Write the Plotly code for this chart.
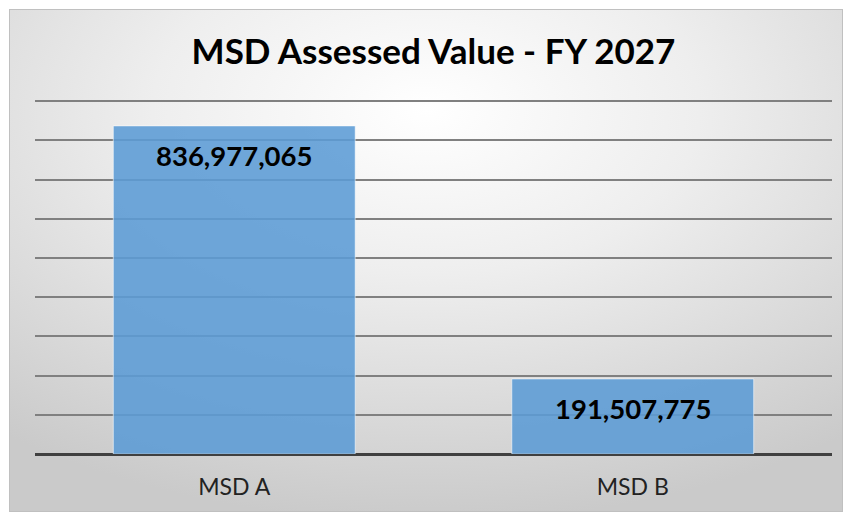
import base64
import plotly.graph_objects as go

categories = ["MSD A", "MSD B"]
values = [836977065, 191507775]
title_text = "MSD Assessed Value - FY 2027"
grid_step = 100_000_000

W, H = 844, 512
ML, MR, MT, MB = 35, 12, 93, 58
pw, ph = W - ML - MR, H - MT - MB

# gradient background (Excel-like radial fill)
svg = (
    '<svg xmlns="http://www.w3.org/2000/svg" width="835" height="503" viewBox="0 0 835 503" preserveAspectRatio="none">'
    '<defs><radialGradient id="g" cx="50%" cy="20%" r="82%" fx="50%" fy="20%">'
    '<stop offset="0%" stop-color="#ffffff"/>'
    '<stop offset="40%" stop-color="#eeeeee"/>'
    '<stop offset="100%" stop-color="#cacaca"/>'
    '</radialGradient></defs>'
    '<rect x="0" y="0" width="835" height="503" fill="url(#g)"/>'
    '<rect x="0.5" y="0.5" width="834" height="502" fill="none" stroke="#c0c0c0" stroke-width="1"/>'
    '</svg>'
)
src = "data:image/svg+xml;base64," + base64.b64encode(svg.encode()).decode()

bx0, by0, bx1, by1 = 9, 9, 843, 512
img = dict(
    source=src, xref="paper", yref="paper",
    x=(bx0 - ML) / pw, y=(H - MB - by0) / ph,
    sizex=(bx1 - bx0) / pw, sizey=(by1 - by0) / ph,
    xanchor="left", yanchor="top", sizing="stretch", layer="below",
)

fig = go.Figure()
fig.add_trace(go.Bar(
    x=categories, y=values,
    marker=dict(color="rgba(91,155,213,0.88)",
                line=dict(color="rgba(255,255,255,0.55)", width=1)),
    hoverinfo="skip",
))

for c, v in zip(categories, values):
    fig.add_annotation(
        x=c, y=v, text=f"<b>{v:,}</b>", showarrow=False,
        yanchor="middle", yshift=-30,
        font=dict(family="Lato", size=27.5, color="#000000"),
    )

fig.update_layout(
    width=W, height=H,
    margin=dict(l=ML, r=MR, t=MT, b=MB),
    paper_bgcolor="white", plot_bgcolor="rgba(0,0,0,0)",
    bargap=0.393,
    showlegend=False,
    images=[img],
    title=dict(text=f"<b>{title_text}</b>", x=0.5, xref="paper",
               y=1 - 52 / H, yref="container", yanchor="middle", xanchor="center",
               font=dict(family="Lato", size=35, color="#000000")),
    xaxis=dict(showgrid=False, showline=False, ticks="",
               tickfont=dict(family="Lato", size=23, color="#222222"),
               ticklabelstandoff=17),
    yaxis=dict(range=[0, grid_step * (ph / 39.2) ], dtick=grid_step, tick0=0,
               showticklabels=False, ticks="",
               showgrid=True, gridcolor="#808080", gridwidth=2,
               zeroline=True, zerolinecolor="#404040", zerolinewidth=3,
               showline=False),
)

fig.write_html("out.html", config={"displayModeBar": False},
               post_script="document.body.style.margin='0';document.body.style.overflow='hidden';")
